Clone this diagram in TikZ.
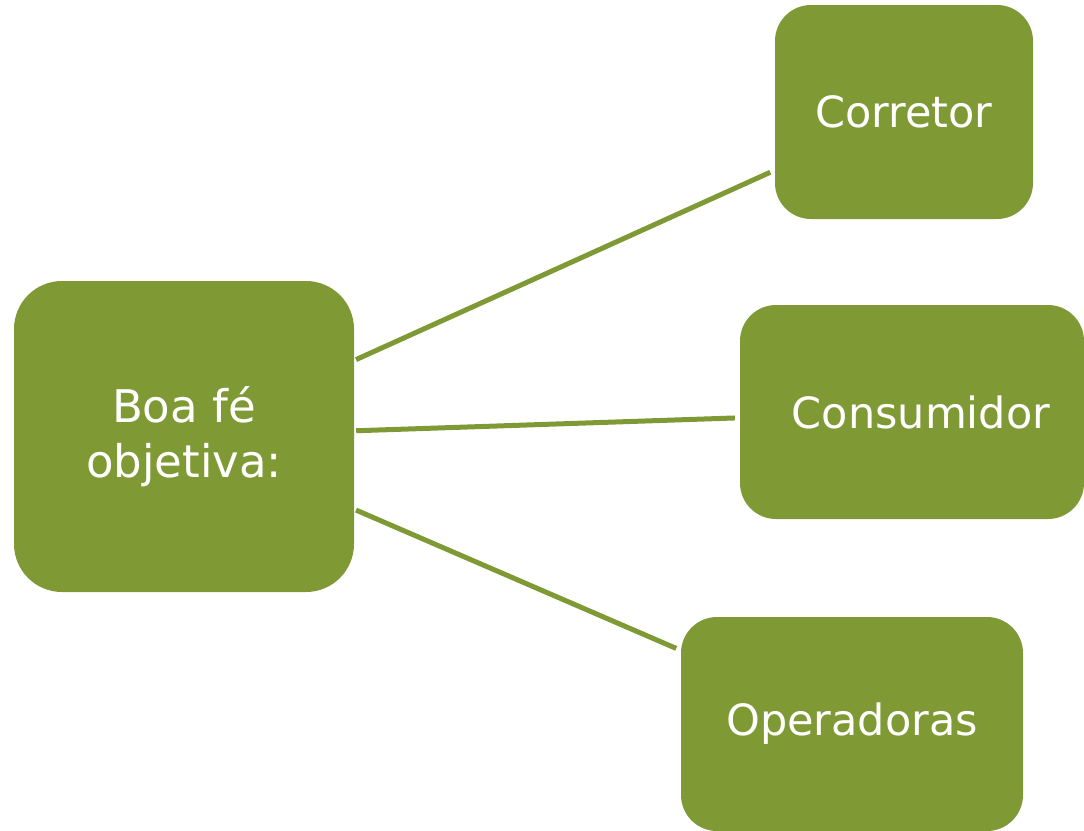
\documentclass[tikz,border=0pt]{standalone}
\usepackage{fontspec}
\setmainfont{DejaVu Sans}
\definecolor{olive}{RGB}{127,153,52}
\begin{document}
\begin{tikzpicture}[x=1pt,y=-1pt,
  box/.style={rectangle, fill=olive, text=white, inner sep=0pt,
    font=\fontsize{43}{54}\selectfont, align=center},
  conn/.style={draw=olive, line width=5pt, shorten <=2pt, shorten >=5pt}]
\useasboundingbox (0,0) rectangle (1084,830);
\node[box, rounded corners=48pt, minimum width=340pt, minimum height=311pt,
  font=\fontsize{45}{54}\selectfont] (boa) at (184,436.5) {Boa fé\\[1pt]objetiva:};
\node[box, rounded corners=36pt, minimum width=258pt, minimum height=214pt] (corretor) at (904,112) {Corretor};
\node[box, rounded corners=36pt, minimum width=344pt, minimum height=214pt] (consumidor) at (912,412) {\hspace*{18pt}Consumidor};
\node[box, rounded corners=36pt, minimum width=342pt, minimum height=214pt] (operadoras) at (852,724) {Operadoras};
\draw[conn] (boa) -- (corretor);
\draw[conn] (boa) -- (consumidor);
\draw[conn] (boa) -- (operadoras);
\end{tikzpicture}
\end{document}
